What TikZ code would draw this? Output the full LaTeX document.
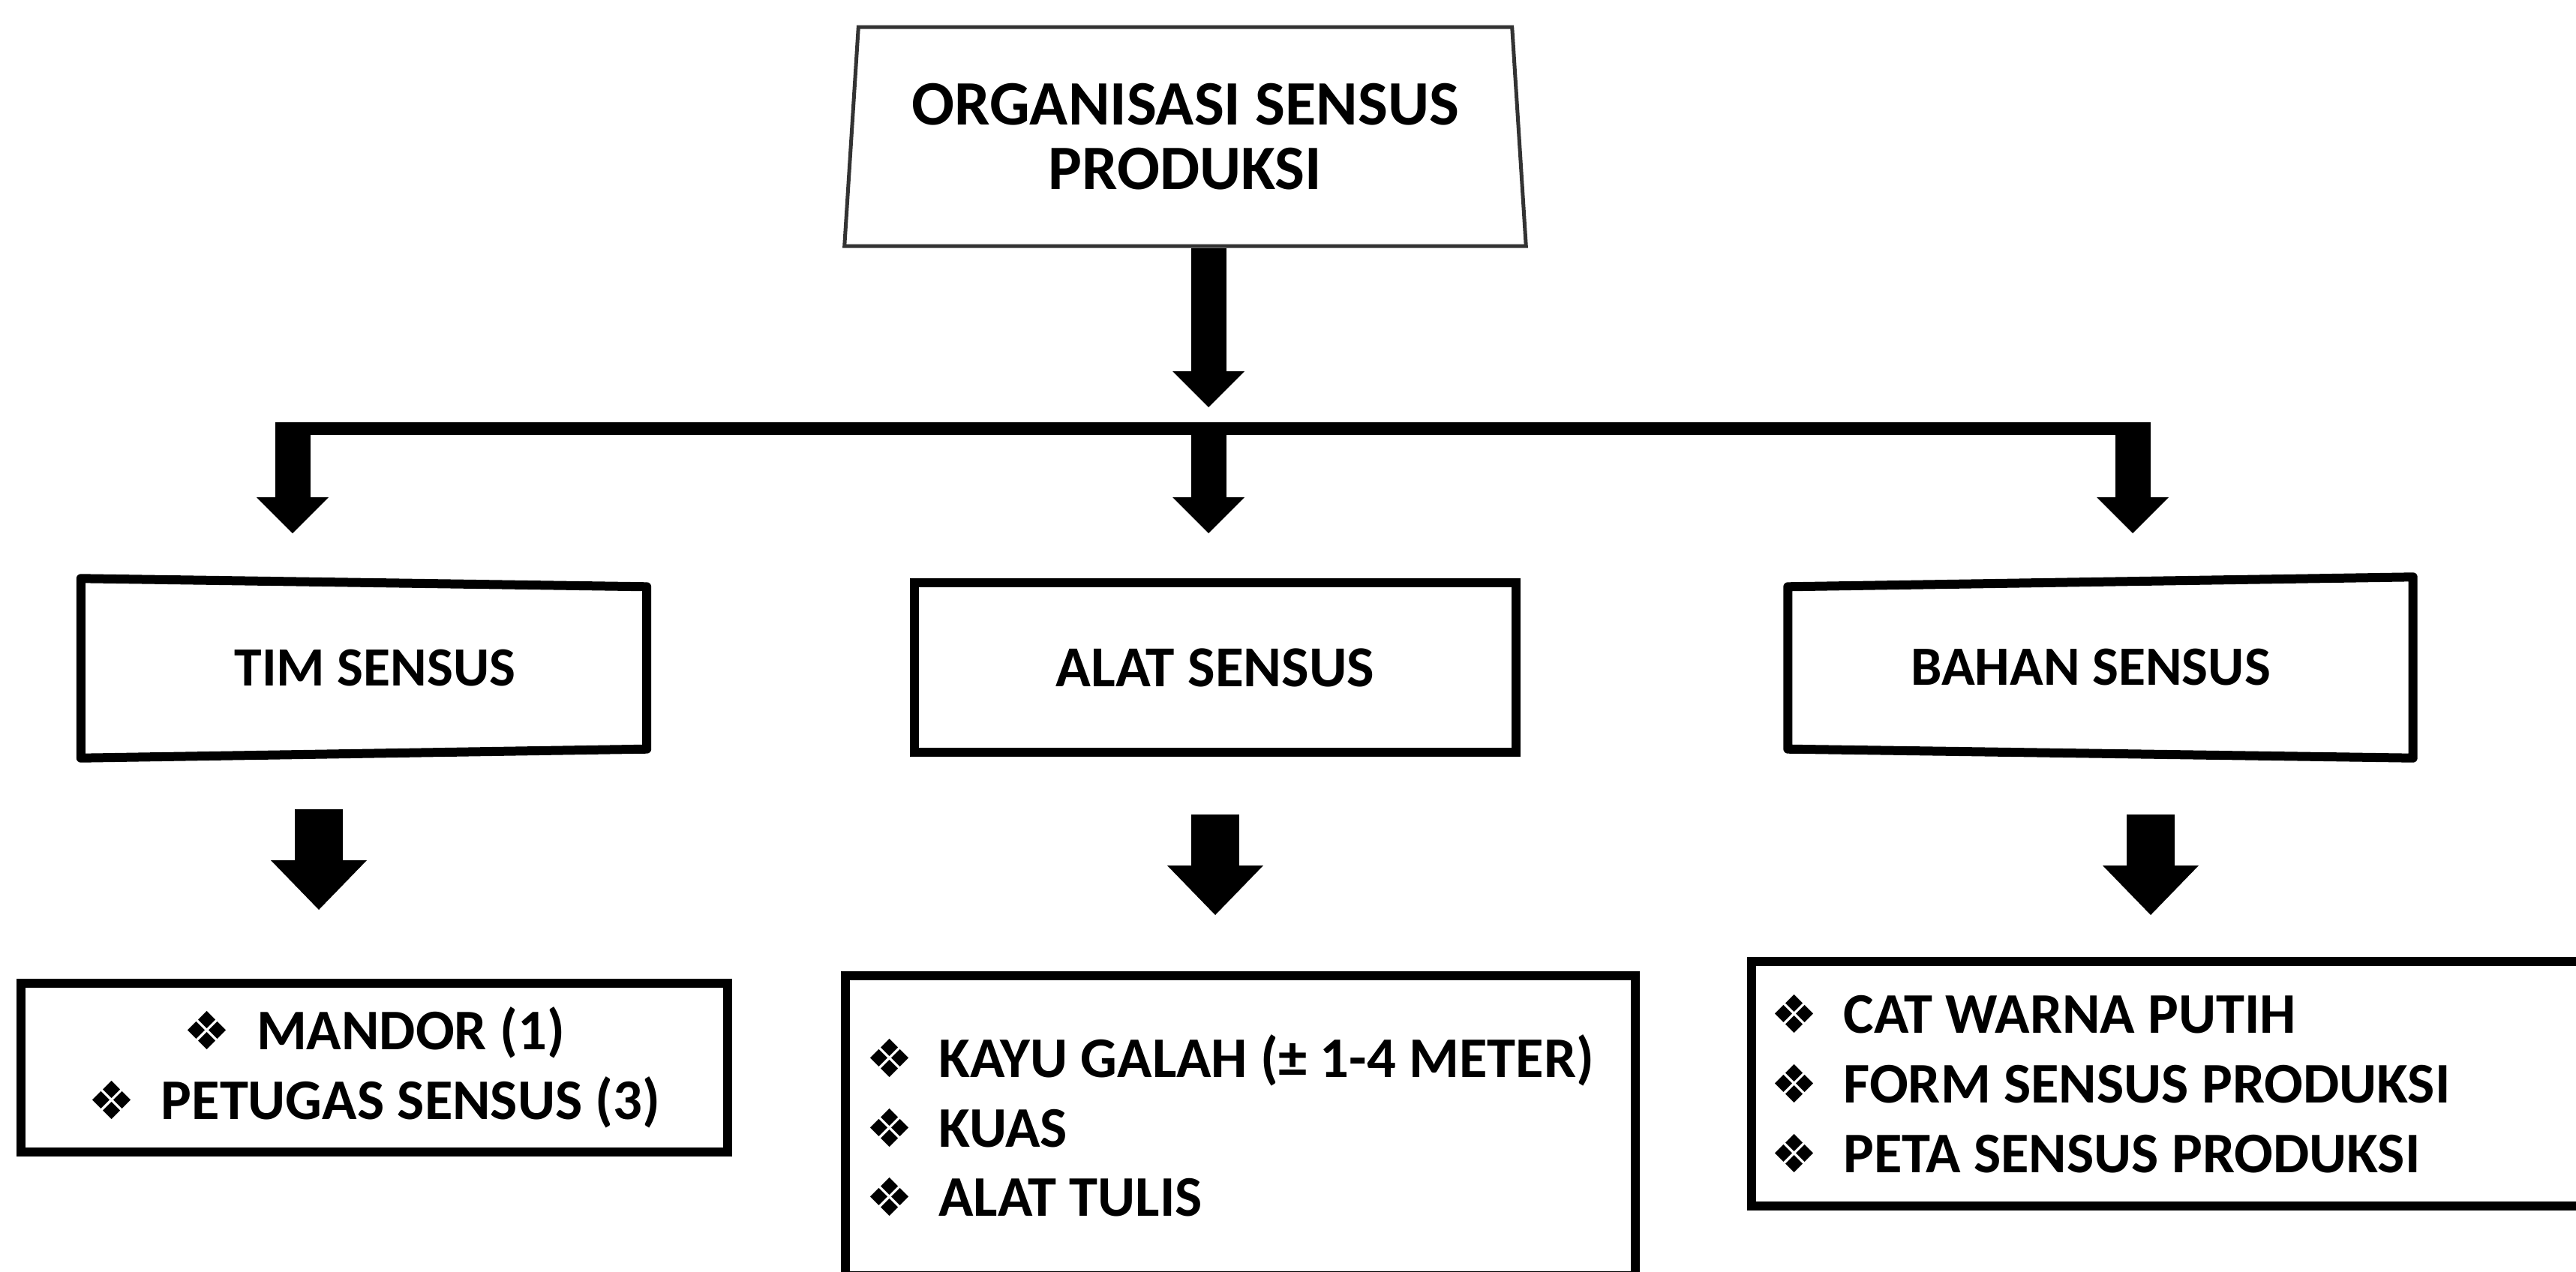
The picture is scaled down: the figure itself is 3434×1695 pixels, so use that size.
\documentclass[tikz,border=0pt]{standalone}
\usepackage{fontspec}
\setmainfont{Carlito}
\newfontfamily\symfont{DejaVu Sans}
\usetikzlibrary{positioning,shapes.geometric,arrows.meta}

\newcommand{\itm}{{\symfont\fontsize{20}{20}\selectfont ❖}\hspace{3.4mm}}

\tikzstyle{orgbox}=[%
      trapezium, trapezium left angle=83.75, trapezium right angle=83.75, trapezium stretches=true,
      draw=black!80, line width=0.5mm, fill=white, align=center, inner sep=0pt,
      minimum width=91.1mm, minimum height=29.2mm, font=\bfseries\fontsize{24}{24.5}\selectfont
]
\tikzstyle{subbox}=[%
      draw=black, line width=1.2mm, fill=white, inner sep=0pt,
      font=\bfseries\fontsize{22}{26}\selectfont
]
\tikzstyle{slantbox}=[%
      inner sep=0pt, font=\bfseries\fontsize{21}{26}\selectfont
]
\tikzstyle{slantline}=[draw=black, line width=1.2mm, line join=round]
\tikzstyle{listbox}=[%
      draw=black, line width=1.2mm, fill=white,
      font=\bfseries\fontsize{21.8}{26.4}\selectfont
]
\tikzstyle{thinarrow}=[line width=4.7mm, -{Triangle[length=4.8mm, width=9.6mm, line width=0pt]}]
\tikzstyle{fatarrow}=[line width=6.4mm, -{Triangle[length=6.6mm, width=12.8mm, line width=0pt]}]
\tikzstyle{barline}=[line width=1.7mm]

\begin{document}
\begin{tikzpicture}[x=0.1mm, y=-0.1mm]
  \useasboundingbox (0,0) rectangle (3434,1695);
  \clip (0,0) rectangle (3434,1695);

  \node[orgbox] (org) at (1580,182) {ORGANISASI SENSUS\\PRODUKSI};

  \node[slantbox, minimum width=75.3mm, minimum height=23.8mm] (tim) at (500,891) {TIM SENSUS};
  \draw[slantline] ([xshift=-1.5mm]tim.north west) -- ([xshift=-1.5mm,yshift=-1.1mm]tim.north east)
      -- ([xshift=-1.5mm,yshift=1.2mm]tim.south east) -- ([xshift=-1.5mm]tim.south west) -- cycle;
  \node[subbox, minimum width=80.2mm, minimum height=22.6mm] (alat) at (1620,890) {ALAT SENSUS};
  \node[slantbox, minimum width=83.2mm, minimum height=24mm] (bahan) at (2787,890) {BAHAN SENSUS};
  \draw[slantline] ([xshift=1.3mm,yshift=-1.3mm]bahan.north west) -- ([xshift=1.3mm]bahan.north east)
      -- ([xshift=1.3mm]bahan.south east) -- ([xshift=1.3mm,yshift=1.2mm]bahan.south west) -- cycle;

  \node[listbox, align=center, minimum width=94.2mm, minimum height=22.5mm] (timlist) at (499,1423)
      {\itm MANDOR (1)\\\itm PETUGAS SENSUS (3)};
  \node[listbox, align=flush left, text width=99.7mm, inner xsep=2.8mm, minimum height=40mm] (alatlist) at (1653,1501)
      {\itm KAYU GALAH (± 1-4 METER)\\\itm KUAS\\\itm ALAT TULIS};
  \node[listbox, align=flush left, text width=105.3mm, inner xsep=2.6mm, minimum height=32.6mm] (bahanlist) at (2887,1445)
      {\itm CAT WARNA PUTIH\\\itm FORM SENSUS PRODUKSI\\\itm PETA SENSUS PRODUKSI};

  % top arrow and branch bar
  \coordinate (hub) at (1611,543);
  \draw[thinarrow] (org.south -| hub) -- (hub);
  \coordinate (barL) at (367,571);
  \coordinate (barR) at (2865,571);
  \draw[barline] (barL) -- (barR);
  \foreach \x/\n in {390/t, 1611/a, 2843/b} {
    \coordinate (j\n) at (\x,563);
    \coordinate (k\n) at (\x,711);
    \draw[thinarrow] (j\n) -- (k\n);
  }

  % arrows to the lists
  \foreach \x/\y/\n in {425/1079/t, 1620/1086/a, 2867/1086/b} {
    \coordinate (p\n) at (\x,\y);
    \coordinate (q\n) at (\x,\y+134);
    \draw[fatarrow] (p\n) -- (q\n);
  }
\end{tikzpicture}
\end{document}
